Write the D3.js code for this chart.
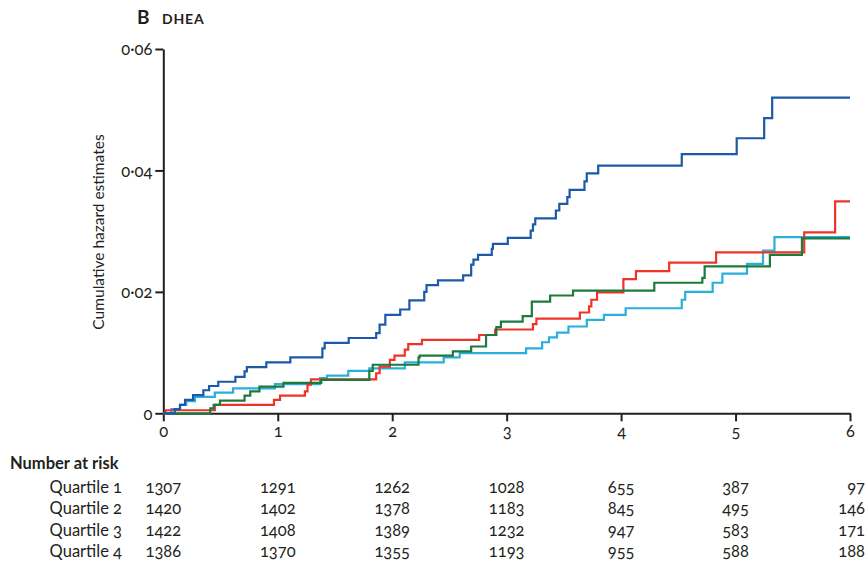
<!DOCTYPE html>
<html>
<head>
<meta charset="utf-8">
<script src="https://cdnjs.cloudflare.com/ajax/libs/d3/7.8.5/d3.min.js"></script>
<style>
body { margin: 0; background: #fff; }
svg { display: block; font-family: Lato, "Open Sans", sans-serif; }
text { fill: #231f20; font-variant-numeric: oldstyle-nums; }
.axis path, .axis line { stroke: #231f20; stroke-width: 2; }
.curve { fill: none; stroke-width: 2.2; }
</style>
</head>
<body>
<div id="chart"></div>
<script>
var w = 867;
var h = 567;

// cumulative hazard steps: [year, estimate]
var quartile1 = [[0,0],[0.10,0.0007],[0.146,0.0014],[0.19,0.0022],[0.26,0.003],[0.35,0.0038],[0.40,0.0045],[0.48,0.0052],[0.63,0.006],[0.71,0.0069],[0.73,0.0076],[0.90,0.0084],[1.11,0.0092],[1.39,0.0107],[1.41,0.0116],[1.62,0.0124],[1.86,0.0132],[1.89,0.0146],[1.94,0.0162],[2.07,0.0171],[2.15,0.0186],[2.28,0.0200],[2.30,0.0211],[2.40,0.0219],[2.62,0.0227],[2.69,0.0245],[2.71,0.0253],[2.75,0.0261],[2.87,0.0271],[2.88,0.0279],[3.01,0.0289],[3.21,0.0301],[3.23,0.0311],[3.25,0.0321],[3.43,0.0334],[3.46,0.0345],[3.53,0.0356],[3.55,0.0368],[3.68,0.0382],[3.70,0.0395],[3.80,0.0408],[4.53,0.0427],[5.01,0.0453],[5.25,0.0486],[5.32,0.052],[6,0.052]];
var quartile2 = [[0,0],[0.02,0.0005],[0.45,0.0014],[0.967,0.0022],[1.02,0.0029],[1.237,0.0036],[1.26,0.0047],[1.29,0.0056],[1.86,0.0066],[1.89,0.0077],[1.98,0.0088],[2.02,0.0095],[2.11,0.0105],[2.14,0.0114],[2.26,0.0121],[2.76,0.0129],[2.90,0.0138],[3.23,0.0147],[3.26,0.0156],[3.64,0.0166],[3.72,0.0176],[3.74,0.0187],[3.79,0.0199],[4.02,0.0221],[4.13,0.0234],[4.42,0.0248],[4.83,0.0265],[5.60,0.0298],[5.87,0.0349],[6,0.0349]];
var quartile3 = [[0,0],[0.41,0.0008],[0.44,0.0014],[0.495,0.0021],[0.71,0.0029],[0.76,0.0036],[0.84,0.0044],[1.05,0.005],[1.38,0.0055],[1.80,0.0070],[1.83,0.0080],[2.23,0.0092],[2.24,0.0095],[2.53,0.0102],[2.69,0.011],[2.82,0.0129],[2.91,0.0142],[2.95,0.0151],[3.14,0.016],[3.22,0.0184],[3.38,0.0194],[3.58,0.0202],[4.29,0.0215],[4.71,0.0223],[4.73,0.0242],[5.30,0.0261],[5.58,0.0288],[6,0.0288]];
var quartile4 = [[0,0],[0.07,0.0007],[0.146,0.0014],[0.20,0.002],[0.277,0.0027],[0.45,0.0034],[0.61,0.0041],[0.975,0.0048],[1.37,0.0058],[1.43,0.0062],[1.616,0.007],[1.80,0.0074],[2.11,0.0084],[2.45,0.0092],[2.59,0.0099],[3.17,0.0107],[3.31,0.0117],[3.37,0.0125],[3.44,0.0133],[3.54,0.0143],[3.70,0.0154],[3.85,0.0162],[4.04,0.0173],[4.53,0.0187],[4.56,0.02],[4.80,0.0215],[4.885,0.023],[5.10,0.0246],[5.24,0.0268],[5.34,0.029],[6,0.029]];

var groups = ["Quartile 1", "Quartile 2", "Quartile 3", "Quartile 4"];
var colours = ["#1b5aa8", "#ee3329", "#1c7a3c", "#2aaedb"];

// number at risk, one value per year 0-6
var years = [0, 1, 2, 3, 4, 5, 6];
var risk1 = [1307, 1291, 1262, 1028, 655, 387, 97];
var risk2 = [1420, 1402, 1378, 1183, 845, 495, 146];
var risk3 = [1422, 1408, 1389, 1232, 947, 583, 171];
var risk4 = [1386, 1370, 1355, 1193, 955, 588, 188];
var yTicks = [0, 0.02, 0.04, 0.06];

var svg = d3.select("#chart").append("svg")
	.attr("width", w)
	.attr("height", h);

var x = d3.scaleLinear().domain([0, 6]).range([163.3, 850]);
var y = d3.scaleLinear().domain([0, 0.06]).range([413.3, 49]);

// title
svg.append("text")
	.attr("x", 137)
	.attr("y", 24)
	.attr("font-size", 19)
	.attr("font-weight", "bold")
	.text("B");
svg.append("text")
	.attr("x", 162)
	.attr("y", 24)
	.attr("font-size", 14)
	.attr("font-weight", "bold")
	.attr("letter-spacing", 0.8)
	.text("DHEA");

// axes
var xAxis = svg.append("g")
	.attr("class", "axis")
	.attr("transform", "translate(0," + y(0) + ")")
	.call(d3.axisBottom(x).tickValues(years).tickSize(8).tickSizeOuter(0).tickPadding(4)
		.tickFormat(d3.format("d")));

var yAxis = svg.append("g")
	.attr("class", "axis")
	.attr("transform", "translate(" + x(0) + ",0)")
	.call(d3.axisLeft(y).tickValues(yTicks).tickSize(8).tickSizeOuter(0).tickPadding(3)
		.tickFormat(function(d) { return d === 0 ? "0" : d3.format(".2f")(d).replace(".", "\u00b7"); }));

svg.selectAll(".axis text")
	.attr("font-size", 16.5)
	.attr("font-family", "Lato, sans-serif")
	.style("fill", "#231f20");
yAxis.selectAll("text").attr("dy", "0.36em");

svg.append("text")
	.attr("transform", "translate(104," + 232 + ") rotate(-90)")
	.attr("text-anchor", "middle")
	.attr("font-size", 15.5)
	.text("Cumulative hazard estimates");

// curves
var line = d3.line()
	.x(function(d) { return x(d[0]); })
	.y(function(d) { return y(d[1]); })
	.curve(d3.curveStepAfter);

var series = [quartile1, quartile2, quartile3, quartile4];
var drawOrder = [3, 1, 2, 0];

svg.append("g").selectAll("path")
	.data(drawOrder)
	.enter()
	.append("path")
	.attr("class", "curve")
	.attr("d", function(i) { return line(series[i]); })
	.attr("stroke", function(i) { return colours[i]; });

// number at risk table
svg.append("text")
	.attr("x", 10)
	.attr("y", 469)
	.attr("font-size", 16.5)
	.attr("font-weight", "bold")
	.text("Number at risk");

var risks = [risk1, risk2, risk3, risk4];
var rowY = d3.scaleLinear().domain([0, 3]).range([493, 557]);

var rows = svg.append("g").selectAll("g")
	.data(risks)
	.enter()
	.append("g")
	.attr("transform", function(d, i) { return "translate(0," + rowY(i) + ")"; });

rows.append("text")
	.attr("x", 122)
	.attr("text-anchor", "end")
	.attr("font-size", 16.5)
	.text(function(d, i) { return groups[i]; });

rows.selectAll("text.num")
	.data(function(d) { return d; })
	.enter()
	.append("text")
	.attr("class", "num")
	.attr("x", function(d, j) { return j === 6 ? x(years[j]) + 15 : x(years[j]); })
	.attr("text-anchor", function(d, j) { return j === 6 ? "end" : "middle"; })
	.attr("font-size", 16.5)
	.text(function(d) { return d; });
</script>
</body>
</html>
